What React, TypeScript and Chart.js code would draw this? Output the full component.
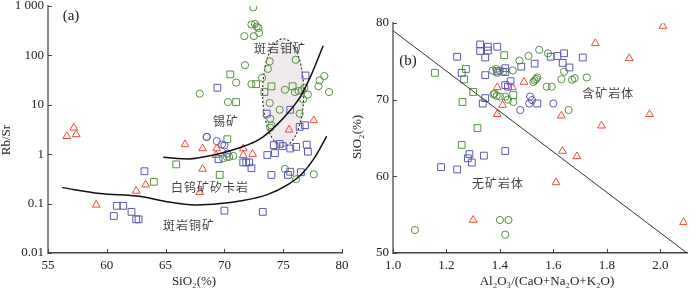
import { useEffect, useRef } from 'react';
import { Chart, registerables } from 'chart.js';

Chart.register(...registerables);

// ---------- Panel (a): SiO2 vs Rb/Sr ----------
const xTicksA = [55, 60, 65, 70, 75, 80];
const yTicksA = [0.01, 0.1, 1, 10, 100, 1000];
const yTickLabelsA = ['0.01', '0.1', '1', '10', '100', '1 000'];

const redTriA: [number, number][] = [
  [56.6, 2.3], [57.2, 3.4], [57.4, 2.5], [59.1, 0.094], [62.5, 0.18], [63.3, 0.24],
  [66.65, 1.57], [67.9, 0.17], [68.15, 1.3], [68.15, 0.5], [69.35, 1.3], [69.3, 0.95],
  [71.6, 1.3], [71.6, 0.95], [72.4, 1.0], [75.5, 3.1], [77.6, 4.8],
];
const blueSqA: [number, number][] = [
  [60.6, 0.056], [60.85, 0.09], [61.4, 0.09], [62.1, 0.068], [62.5, 0.048], [62.7, 0.048],
  [63.2, 0.45], [69.4, 22], [69.5, 0.79], [71.6, 0.68], [71.85, 0.68], [72.1, 0.68],
  [72.3, 0.52], [70.0, 0.072], [73.26, 0.068], [73.6, 6.6], [75.6, 7.9], [76.4, 3.55],
  [76.85, 3.85], [76.9, 39], [73.65, 0.96], [74.3, 1.05], [74.2, 1.52], [74.7, 1.6],
  [74.95, 1.45], [75.6, 1.3], [76.1, 1.4], [77.0, 1.55], [77.1, 1.12], [74.0, 0.38],
  [75.4, 0.38], [75.6, 0.44], [76.5, 0.43],
];
const blueCirA: [number, number][] = [
  [68.5, 2.23], [69.35, 1.83], [69.8, 1.57], [70.0, 1.5], [70.25, 1.03],
];
const greenSqA: [number, number][] = [
  [65.9, 0.62], [64.0, 0.275], [69.6, 0.38], [70.25, 2.0], [70.5, 41], [71.0, 11.3],
  [72.7, 26], [74.0, 23.5], [73.4, 18], [75.8, 23.5],
];
const greenCirA: [number, number][] = [
  [72.46, 930], [72.3, 417], [72.6, 430], [72.75, 380], [72.9, 357], [72.95, 283],
  [72.5, 243], [71.7, 243], [71.75, 63], [73.85, 75], [73.7, 53], [76.06, 81],
  [73.2, 35], [71.0, 28], [72.3, 26], [67.9, 16.7], [70.3, 11.3], [73.85, 10.8],
  [74.7, 7.9], [73.9, 5.2], [74.0, 3.8], [73.9, 3.4], [76.4, 6.6], [75.15, 20],
  [76.0, 18], [76.3, 19], [76.6, 19.5], [76.8, 22], [77.1, 16], [76.7, 12.8],
  [78.1, 31], [78.5, 38], [78.0, 23.5], [78.9, 18], [68.5, 2.23], [69.9, 0.82],
  [70.2, 0.88], [70.4, 0.88], [70.75, 0.92], [75.15, 0.5], [76.1, 0.31], [77.6, 0.39],
];
const upperCurveA: [number, number][] = [
  [64.8, 0.86], [67.0, 0.8], [69.0, 0.95], [71.3, 1.35], [73.0, 2.0], [74.5, 4.0],
  [75.6, 7.7], [76.5, 15], [77.3, 36], [78.4, 155],
];
const lowerCurveA: [number, number][] = [
  [56.2, 0.21], [59.4, 0.16], [62.8, 0.14], [65.0, 0.11], [67.6, 0.094], [70.5, 0.105],
  [73.6, 0.15], [75.5, 0.25], [76.6, 0.4], [77.6, 0.8], [78.7, 2.3],
];
// ellipse bounds: xMin, xMax, yMin, yMax
const ellipseA = [73.25, 76.75, 1.44, 216];
const regionLabelsA = ['斑岩钼矿', '锡矿', '白钨矿矽卡岩', '斑岩铜矿'];
const labelAnchorsA: [number, number][] = [[74.73, 136], [70.14, 4.58], [68.78, 0.214], [66.99, 0.0367]];

// ---------- Panel (b): A/CNK vs SiO2 ----------
const xTicksB = [1.0, 1.2, 1.4, 1.6, 1.8, 2.0];
const yTicksB = [50, 60, 70, 80];

const redTriB: [number, number][] = [
  [2.01, 79.6], [1.757, 77.35], [1.884, 75.4], [1.49, 72.3], [1.39, 71.6], [1.447, 71.6],
  [1.41, 69.3], [1.39, 68.1], [1.63, 67.9], [1.96, 68.1], [1.78, 66.6], [1.634, 63.3],
  [1.688, 62.6], [1.61, 59.2], [1.30, 54.3], [2.087, 54.0],
];
const blueSqB: [number, number][] = [
  [1.18, 61.2], [1.24, 60.9], [1.28, 62.35], [1.286, 62.9], [1.295, 61.8], [1.34, 62.7],
  [1.42, 63.3], [1.24, 75.6], [1.326, 77.2], [1.326, 76.35], [1.355, 76.9], [1.355, 76.4],
  [1.39, 76.9], [1.257, 73.5], [1.345, 75.5], [1.345, 73.2], [1.39, 73.7], [1.42, 74.1],
  [1.42, 73.6], [1.42, 71.9], [1.43, 71.7], [1.44, 72.4], [1.48, 74.3], [1.53, 74.7],
  [1.345, 70.2], [1.336, 69.5], [1.54, 69.5], [1.59, 75.6], [1.615, 75.7], [1.64, 76.05],
  [1.635, 74.8], [1.66, 74.2], [1.71, 75.5],
];
const blueCirB: [number, number][] = [
  [1.39, 73.5], [1.476, 68.65], [1.513, 70.4], [1.52, 69.95], [1.51, 69.5], [1.6, 69.5],
];
const greenSqB: [number, number][] = [
  [1.157, 73.5], [1.273, 74.0], [1.266, 72.65], [1.30, 71.0], [1.26, 69.7], [1.416, 75.8],
  [1.45, 70.6], [1.316, 66.3], [1.257, 64.1],
];
const greenCirB: [number, number][] = [
  [1.082, 53.0], [1.40, 54.3], [1.432, 54.3], [1.42, 52.4], [1.373, 73.8], [1.386, 74.0],
  [1.40, 73.8], [1.413, 73.65], [1.448, 73.8], [1.473, 75.1], [1.507, 75.7], [1.547, 76.5],
  [1.58, 76.05], [1.64, 73.65], [1.63, 72.65], [1.67, 72.6], [1.68, 72.8], [1.725, 72.9],
  [1.525, 72.3], [1.53, 72.5], [1.535, 72.7], [1.54, 72.9], [1.575, 71.7], [1.594, 71.7],
  [1.657, 68.65], [1.376, 70.7], [1.388, 70.5], [1.40, 70.4], [1.42, 70.4], [1.43, 70.0],
  [1.45, 69.7], [1.38, 70.8],
];
const boundaryLineB: [number, number][] = [[1.0, 79], [2.1, 50]];
const regionLabelsB = ['含矿岩体', '无矿岩体'];
const labelAnchorsB: [number, number][] = [[1.805, 70.87], [1.393, 59.13]];

// ---------- styling ----------
const SERIF = "'Liberation Serif', 'Times New Roman', serif";
const CJK = "'Noto Sans CJK SC', sans-serif";
const RED = '#ee4a3a';
const GREEN = '#55923f';
const BLUE = '#5a5ab2';

const toXY = (arr: [number, number][]) => arr.map(([x, y]) => ({ x, y }));

function markerSet(data: [number, number][], style: string, color: string, radius: number) {
  return {
    data: toXY(data),
    pointStyle: style,
    pointRadius: radius,
    pointHoverRadius: radius,
    pointBorderColor: color,
    pointBackgroundColor: 'rgba(0,0,0,0)',
    pointBorderWidth: 1,
    borderColor: color,
    backgroundColor: 'rgba(0,0,0,0)',
    showLine: false,
  };
}

function curveSet(data: [number, number][], width: number, color: string, smooth: boolean) {
  return {
    data: toXY(data),
    showLine: true,
    borderColor: color,
    borderWidth: width,
    pointRadius: 0,
    pointHoverRadius: 0,
    tension: smooth ? 0.4 : 0,
    cubicInterpolationMode: smooth ? 'monotone' : 'default',
    fill: false,
  };
}

function drawInwardTicks(chart: any) {
  const { ctx, chartArea: ca } = chart;
  const xs = chart.scales.x;
  const ys = chart.scales.y;
  ctx.save();
  ctx.strokeStyle = '#444';
  ctx.lineWidth = 1;
  ctx.beginPath();
  for (const t of xs.ticks) {
    const px = Math.round(xs.getPixelForValue(t.value)) + 0.5;
    ctx.moveTo(px, ca.bottom);
    ctx.lineTo(px, ca.bottom - 4);
  }
  for (const t of ys.ticks) {
    const py = Math.round(ys.getPixelForValue(t.value)) + 0.5;
    ctx.moveTo(ca.left, py);
    ctx.lineTo(ca.left + 4, py);
  }
  ctx.stroke();
  ctx.restore();
}

function drawRegionLabels(chart: any, labels: string[], anchors: [number, number][]) {
  const { ctx } = chart;
  const xs = chart.scales.x;
  const ys = chart.scales.y;
  ctx.save();
  ctx.font = `12px ${CJK}`;
  ctx.fillStyle = '#444';
  ctx.textAlign = 'center';
  ctx.textBaseline = 'middle';
  try { (ctx as any).letterSpacing = '1px'; } catch (e) { /* ignore */ }
  labels.forEach((s, i) => {
    ctx.fillText(s, xs.getPixelForValue(anchors[i][0]), ys.getPixelForValue(anchors[i][1]));
  });
  ctx.restore();
}

function drawText(ctx: any, text: string, x: number, y: number, font: string, rotate = false) {
  ctx.save();
  ctx.font = font;
  ctx.fillStyle = '#222';
  ctx.textAlign = 'center';
  ctx.textBaseline = 'middle';
  ctx.translate(x, y);
  if (rotate) ctx.rotate(-Math.PI / 2);
  ctx.fillText(text, 0, 0);
  ctx.restore();
}

const overlayA = {
  id: 'overlayA',
  beforeDatasetsDraw(chart: any) {
    const { ctx } = chart;
    const xs = chart.scales.x;
    const ys = chart.scales.y;
    const x0 = xs.getPixelForValue(ellipseA[0]);
    const x1 = xs.getPixelForValue(ellipseA[1]);
    const yb = ys.getPixelForValue(ellipseA[2]);
    const yt = ys.getPixelForValue(ellipseA[3]);
    ctx.save();
    ctx.beginPath();
    ctx.ellipse((x0 + x1) / 2, (yt + yb) / 2, (x1 - x0) / 2, (yb - yt) / 2, 0, 0, Math.PI * 2);
    ctx.fillStyle = '#f0eaec';
    ctx.fill();
    ctx.setLineDash([2, 2]);
    ctx.strokeStyle = '#222';
    ctx.lineWidth = 1.1;
    ctx.stroke();
    ctx.restore();
  },
  afterDraw(chart: any) {
    const { ctx } = chart;
    drawInwardTicks(chart);
    drawRegionLabels(chart, regionLabelsA, labelAnchorsA);
    drawText(ctx, '(a)', 71, 16, `15px ${SERIF}`);
    drawText(ctx, 'Rb/Sr', 7, 140, `13px ${SERIF}`, true);
    drawText(ctx, 'SiO₂(%)', 194, 282, `13px ${SERIF}`);
  },
};

const overlayB = {
  id: 'overlayB',
  afterDraw(chart: any) {
    const { ctx } = chart;
    drawInwardTicks(chart);
    drawRegionLabels(chart, regionLabelsB, labelAnchorsB);
    drawText(ctx, '(b)', 58, 61, `15px ${SERIF}`);
    drawText(ctx, 'SiO₂(%)', 8, 137, `13px ${SERIF}`, true);
    drawText(ctx, 'Al₂O₃/(CaO+Na₂O+K₂O)', 197, 282, `13px ${SERIF}`);
  },
};

const tickFont = { family: SERIF, size: 13 };

function buildConfig(panel: 'a' | 'b'): any {
  const isA = panel === 'a';
  const datasets = isA
    ? [
        curveSet(upperCurveA, 1.5, '#111', true),
        curveSet(lowerCurveA, 1.5, '#111', true),
        markerSet(redTriA, 'triangle', RED, 4.5),
        markerSet(blueSqA, 'rect', BLUE, 4.8),
        markerSet(blueCirA, 'circle', BLUE, 3.6),
        markerSet(greenSqA, 'rect', GREEN, 4.8),
        markerSet(greenCirA, 'circle', GREEN, 3.6),
      ]
    : [
        curveSet(boundaryLineB, 1, '#333', false),
        markerSet(redTriB, 'triangle', RED, 4.5),
        markerSet(blueSqB, 'rect', BLUE, 4.8),
        markerSet(blueCirB, 'circle', BLUE, 3.6),
        markerSet(greenSqB, 'rect', GREEN, 4.8),
        markerSet(greenCirB, 'circle', GREEN, 3.6),
      ];
  const xTicks = isA ? xTicksA : xTicksB;
  const yTicks = isA ? yTicksA : yTicksB;
  return {
    type: 'scatter',
    data: { datasets },
    options: {
      responsive: false,
      animation: false,
      events: [],
      layout: { padding: isA ? { left: 0, right: 8, top: 5, bottom: 0 } : { left: 0, right: 13, top: 23, bottom: 0 } },
      plugins: { legend: { display: false }, tooltip: { enabled: false }, title: { display: false } },
      scales: {
        x: {
          type: 'linear',
          min: isA ? 55 : 1.0,
          max: isA ? 80 : 2.1,
          grid: { display: false, drawTicks: false },
          border: { display: true, color: '#444', width: 1.5 },
          ticks: {
            font: tickFont,
            color: '#222',
            padding: 5,
            maxRotation: 0,
            autoSkip: false,
            callback: (v: number) => (isA ? String(v) : Number(v).toFixed(1)),
          },
          afterBuildTicks: (s: any) => { s.ticks = xTicks.map((v) => ({ value: v })); },
          afterFit: (s: any) => { s.height = 36; s.paddingLeft = 0; s.paddingRight = 0; },
        },
        y: {
          type: isA ? 'logarithmic' : 'linear',
          min: isA ? 0.01 : 50,
          max: isA ? 1000 : 80,
          grid: { display: false, drawTicks: false },
          border: { display: true, color: '#8a8a8a', width: 2 },
          ticks: {
            font: tickFont,
            color: '#222',
            padding: 4,
            autoSkip: false,
            callback: (v: number, i: number) => (isA ? yTickLabelsA[i] : String(v)),
          },
          afterBuildTicks: (s: any) => { s.ticks = yTicks.map((v) => ({ value: v })); },
          afterFit: (s: any) => { s.width = isA ? 48 : 43; s.paddingTop = 0; s.paddingBottom = 0; },
        },
      },
    },
    plugins: [isA ? overlayA : overlayB],
  };
}

export default function App() {
  const refA = useRef<HTMLCanvasElement | null>(null);
  const refB = useRef<HTMLCanvasElement | null>(null);

  useEffect(() => {
    if (!refA.current || !refB.current) return;
    const ca = new Chart(refA.current, buildConfig('a'));
    const cb = new Chart(refB.current, buildConfig('b'));
    return () => {
      ca.destroy();
      cb.destroy();
    };
  }, []);

  return (
    <div style={{ position: 'fixed', left: 0, top: 0, width: 700, height: 289, background: '#fff' }}>
      <canvas ref={refA} width={350} height={289} style={{ position: 'absolute', left: 0, top: 0, width: 350, height: 289 }} />
      <canvas ref={refB} width={350} height={289} style={{ position: 'absolute', left: 350, top: 0, width: 350, height: 289 }} />
    </div>
  );
}
